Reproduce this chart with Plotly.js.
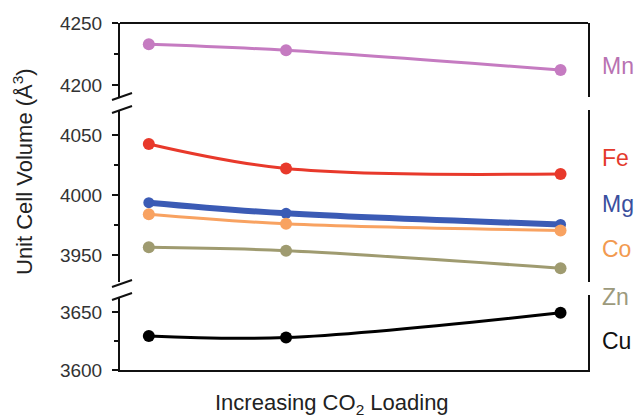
<!DOCTYPE html>
<html><head><meta charset="utf-8">
<script src="https://cdn.plot.ly/plotly-3.0.1.min.js"></script>
<style>html,body{margin:0;padding:0;background:#fff}#chart{width:638px;height:419px}</style>
</head><body><div id="chart"></div>
<script>
// Data
const loading = [0, 1, 3];
const metals = ["Mn", "Fe", "Mg", "Co", "Zn", "Cu"];
const Mn = [4232.8, 4228.0, 4212.0];
const Fe = [4042.5, 4022.0, 4017.5];
const Mg = [3993.6, 3984.7, 3975.5];
const Co = [3984.0, 3976.0, 3970.5];
const Zn = [3956.4, 3953.6, 3939.0];
const Cu = [3629.3, 3628.0, 3649.4];
const yTitle = "Unit Cell Volume (Å<sup>3</sup>)";
const xTitle = "Increasing CO<sub>2</sub> Loading";

const colors = {Mn:"#c57bc1", Fe:"#e8392b", Mg:"#3b5bb5", Co:"#f8a261", Zn:"#9f9b70", Cu:"#000000"};
const labelColors = {Mn:"#b872b2", Fe:"#e43a2c", Mg:"#3a4f9e", Co:"#f29a50", Zn:"#9c9a7c", Cu:"#111111"};
const series = {Mn, Fe, Mg, Co, Zn, Cu};
const axisOf = {Mn:"y", Fe:"y2", Mg:"y2", Co:"y2", Zn:"y2", Cu:"y3"};

const FONT = "Liberation Sans, Arial, Helvetica, sans-serif";

const traces = metals.map(m => ({
  x: loading, y: series[m], xaxis: "x", yaxis: axisOf[m],
  type: "scatter", mode: "lines+markers",
  line: {color: colors[m], width: m === "Mg" ? 6 : 3, shape: "spline", smoothing: 1},
  marker: {color: colors[m], size: m === "Mg" ? 11 : 12},
  showlegend: false, hoverinfo: "x+y"
}));

// layout geometry (pixels)
const W = 638, H = 419, L = 120, R = 50, T = 23, B = 49;
const ph = H - T - B;
const py = p => (H - B - p) / ph;
const px = p => (p - L) / (W - L - R);

const tickFont = {family: FONT, size: 19, color: "#333"};
function yax(domain, range) {
  return {
    domain, range, dtick: 50, tick0: 0, ticks: "outside", ticklen: 6, tickwidth: 1.5,
    tickcolor: "#111", showline: true, linecolor: "#111", linewidth: 2, mirror: true,
    showgrid: false, zeroline: false, tickfont: tickFont, anchor: "x", ticklabelstandoff: 6,
    minor: {dtick: 25, tick0: 0, ticks: "outside", ticklen: 4, tickwidth: 1.2, tickcolor: "#111", showgrid: false}
  };
}

const shapes = [
  {type: "line", xref: "paper", yref: "paper", x0: 0, x1: 1, y0: 1, y1: 1, line: {color: "#111", width: 2}}
];
function brk(yc) {
  const a = [[112, yc - 3], [132, yc - 10]], b = [[112, yc + 10], [132, yc + 3]];
  const path = `M ${px(a[0][0])} ${py(a[0][1])} L ${px(a[1][0])} ${py(a[1][1])} L ${px(b[1][0])} ${py(b[1][1])} L ${px(b[0][0])} ${py(b[0][1])} Z`;
  shapes.push({type: "path", xref: "paper", yref: "paper", path, fillcolor: "#fff", line: {width: 0}});
  [a, b].forEach(s => shapes.push({type: "line", xref: "paper", yref: "paper",
    x0: px(s[0][0]), y0: py(s[0][1]), x1: px(s[1][0]), y1: py(s[1][1]), line: {color: "#111", width: 2}}));
}
brk(103); brk(290);

const labelY = {Mn: 66, Fe: 158, Mg: 204, Co: 249, Zn: 297, Cu: 341};
const annotations = metals.map(m => ({
  text: m, xref: "paper", yref: "paper", x: px(600), y: py(labelY[m]),
  xanchor: "left", yanchor: "middle", showarrow: false,
  font: {family: FONT, size: 23, color: labelColors[m]}
}));
annotations.push({text: xTitle, xref: "paper", yref: "paper", x: px(332), y: py(404),
  xanchor: "center", yanchor: "middle", showarrow: false,
  font: {family: FONT, size: 22, color: "#222"}});
annotations.push({text: yTitle, xref: "paper", yref: "paper", x: px(23), y: py(172),
  xanchor: "center", yanchor: "middle", showarrow: false, textangle: -90,
  font: {family: FONT, size: 22, color: "#222"}});

const layout = {
  width: W, height: H, margin: {l: L, r: R, t: T, b: B},
  paper_bgcolor: "#fff", plot_bgcolor: "rgba(0,0,0,0)",
  xaxis: {domain: [0, 1], range: [-0.21, 3.2], anchor: "y3", showticklabels: false, ticks: "",
    showline: true, linecolor: "#111", linewidth: 2, showgrid: false, zeroline: false},
  yaxis: yax([py(97), 1], [4190.3, 4250]),
  yaxis2: yax([py(282), py(110)], [3927.5, 4070.8]),
  yaxis3: yax([0, py(295)], [3600, 3664.7]),
  shapes, annotations
};

Plotly.newPlot("chart", traces, layout, {displayModeBar: false, staticPlot: true});
</script></body></html>
